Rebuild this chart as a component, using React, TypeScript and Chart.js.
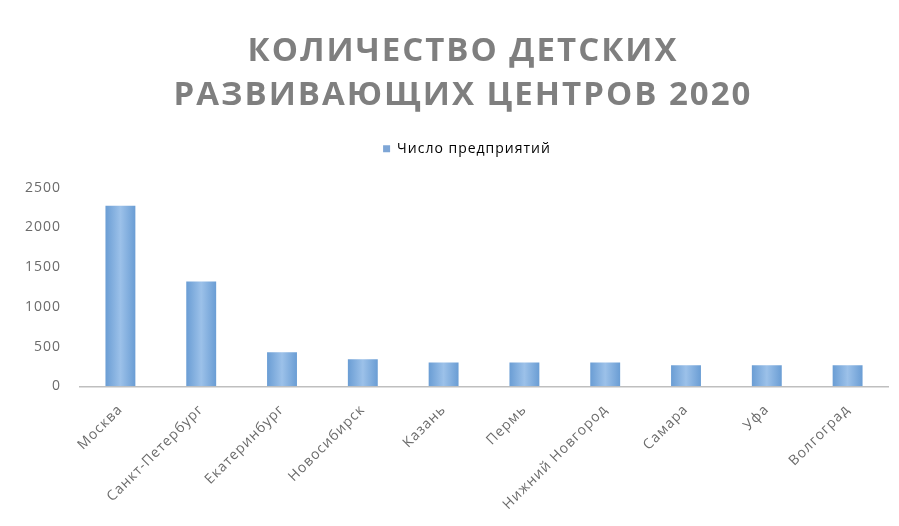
import React, { useEffect, useRef } from "react";
import { Chart, registerables } from "chart.js";

Chart.register(...registerables);

const titleLines = ["КОЛИЧЕСТВО ДЕТСКИХ", "РАЗВИВАЮЩИХ ЦЕНТРОВ 2020"];
const seriesLabel = "Число предприятий";
const categories = [
  "Москва",
  "Санкт-Петербург",
  "Екатеринбург",
  "Новосибирск",
  "Казань",
  "Пермь",
  "Нижний Новгород",
  "Самара",
  "Уфа",
  "Волгоград",
];
const values = [2275, 1320, 430, 340, 300, 300, 300, 265, 265, 265];
const yMax = 2500;
const yStep = 500;

const setSpacing = (ctx: any, v: string) => {
  try {
    ctx.letterSpacing = v;
  } catch (e) {}
};

const spacingPlugin = {
  id: "spacingPlugin",
  beforeUpdate(chart: any) {
    setSpacing(chart.ctx, "1px");
  },
  beforeDraw(chart: any) {
    setSpacing(chart.ctx, "1px");
  },
  afterInit(chart: any) {
    setSpacing(chart.ctx, "1px");
    const tb = chart.titleBlock;
    if (tb && !tb.__patched) {
      const orig = tb.draw.bind(tb);
      tb.draw = (...args: any[]) => {
        const ctx = chart.ctx;
        ctx.save();
        setSpacing(ctx, "2px");
        ctx.translate(12, 0);
        orig(...args);
        ctx.restore();
      };
      tb.__patched = true;
    }
    const lg = chart.legend;
    if (lg && !lg.__patched) {
      const origFit = lg.fit.bind(lg);
      lg.fit = (...args: any[]) => {
        origFit(...args);
        lg.height += 22;
      };
      const origDraw = lg.draw.bind(lg);
      lg.draw = (...args: any[]) => {
        const ctx = chart.ctx;
        ctx.save();
        ctx.translate(16, 0);
        origDraw(...args);
        ctx.restore();
      };
      lg.__patched = true;
    }
  },
};

export default function App() {
  const ref = useRef<HTMLCanvasElement | null>(null);

  useEffect(() => {
    if (!ref.current) return;
    const barPct = 0.37;
    const chart = new Chart(ref.current, {
      type: "bar",
      data: {
        labels: categories,
        datasets: [
          {
            label: seriesLabel,
            data: values,
            barPercentage: barPct,
            categoryPercentage: 1,
            backgroundColor: (c: any) => {
              const ch = c.chart;
              const xs = ch.scales && ch.scales.x;
              if (!xs || c.dataIndex === undefined || xs.width <= 0) return "#7eaadb";
              const cx = xs.getPixelForValue(c.dataIndex);
              const w = (xs.width / categories.length) * barPct;
              const g = ch.ctx.createLinearGradient(cx - w / 2, 0, cx + w / 2, 0);
              g.addColorStop(0, "#6a9dd4");
              g.addColorStop(0.5, "#9cc1e9");
              g.addColorStop(1, "#6a9dd4");
              return g;
            },
          },
        ],
      },
      plugins: [spacingPlugin],
      options: {
        responsive: false,
        maintainAspectRatio: false,
        animation: false,
        layout: { padding: { left: 14, right: 11, top: 30, bottom: 6 } },
        plugins: {
          title: {
            display: true,
            text: titleLines,
            color: "#7f7f7f",
            font: { family: "'Open Sans'", size: 33, weight: "bold", lineHeight: 1.33 },
            padding: { top: 0, bottom: 14 },
          },
          legend: {
            display: true,
            labels: {
              boxWidth: 7,
              boxHeight: 7,
              color: "#666666",
              font: { family: "'Open Sans'", size: 14 },
              padding: 10,
              generateLabels: () => [
                {
                  text: seriesLabel,
                  fillStyle: "#7ea6d6",
                  strokeStyle: "#7ea6d6",
                  lineWidth: 0,
                  hidden: false,
                  datasetIndex: 0,
                },
              ],
            },
          },
          tooltip: { enabled: false },
        },
        scales: {
          x: {
            grid: { display: false },
            border: { display: true, color: "#bfbfbf", width: 1.5 },
            ticks: {
              color: "#6b6b6b",
              font: { family: "'Open Sans'", size: 14 },
              minRotation: 45,
              maxRotation: 45,
              padding: 7,
              autoSkip: false,
            },
          },
          y: {
            min: 0,
            max: yMax,
            grid: { display: false },
            border: { display: false },
            ticks: {
              stepSize: yStep,
              color: "#6b6b6b",
              font: { family: "'Open Sans'", size: 14 },
              padding: 11,
              callback: (v: any) => String(v),
            },
          },
        },
      },
    });
    return () => chart.destroy();
  }, []);

  return (
    <div style={{ position: "fixed", left: 0, top: 0, width: 899, height: 526, background: "#fff" }}>
      <canvas ref={ref} width={899} height={526} style={{ width: 899, height: 526 }} />
    </div>
  );
}
